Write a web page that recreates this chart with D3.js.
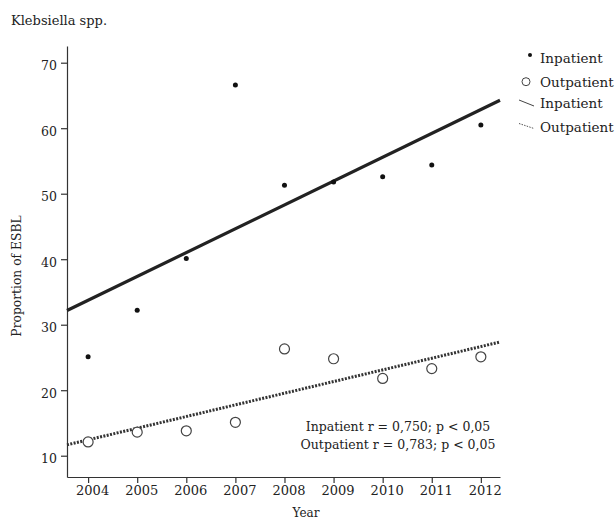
<!DOCTYPE html>
<html>
<head>
<meta charset="utf-8">
<script src="https://cdn.jsdelivr.net/npm/d3@7"></script>
<style>
  body { margin: 0; background: #fff; }
  svg text { font-family: "DejaVu Serif", serif; fill: #222; }
</style>
</head>
<body>
<svg id="chart" width="616" height="520"></svg>
<script>
// data
const years = [2004, 2005, 2006, 2007, 2008, 2009, 2010, 2011, 2012];
const inpatient = [25.1, 32.2, 40.1, 66.6, 51.3, 51.8, 52.6, 54.4, 60.5];
const outpatient = [12.1, 13.6, 13.8, 15.1, 26.3, 24.8, 21.8, 23.3, 25.1];
const yTicks = [10, 20, 30, 40, 50, 60, 70];
const statLines = ["Inpatient r = 0,750; p < 0,05", "Outpatient r = 0,783; p < 0,05"];
const legendLabels = ["Inpatient", "Outpatient", "Inpatient", "Outpatient"];

const svg = d3.select("#chart");

const x = d3.scaleLinear().domain([2003.57, 2012.39]).range([67, 500]);
const y = d3.scaleLinear().domain([6.75, 72.55]).range([477, 46]);

// least squares fit, drawn across the whole x range
function fit(vals) {
  const mx = d3.mean(years), my = d3.mean(vals);
  let sxy = 0, sxx = 0;
  years.forEach((yr, i) => { sxy += (yr - mx) * (vals[i] - my); sxx += (yr - mx) ** 2; });
  const b = sxy / sxx;
  return x.domain().map(xv => [xv, my + b * (xv - mx)]);
}

const line = d3.line().x(d => x(d[0])).y(d => y(d[1]));

// title
svg.append("text").attr("x", 11).attr("y", 25)
  .style("font-size", "13px").text("Klebsiella spp.");

// axes
const yAxis = svg.append("g")
  .attr("transform", `translate(${x.range()[0]},0)`)
  .call(d3.axisLeft(y).tickValues(yTicks).tickSize(6).tickSizeOuter(0).tickPadding(4));
yAxis.selectAll("text").style("font-size", "12.5px").attr("dy", "0.55em")
  .style("font-family", "DejaVu Serif").attr("fill", "#222");

const xAxis = svg.append("g")
  .attr("transform", `translate(0,${y.range()[0]})`)
  .call(d3.axisBottom(x).tickValues(years).tickFormat(d3.format("d")).tickSize(6).tickSizeOuter(0).tickPadding(3));
xAxis.selectAll("text").style("font-size", "13px").attr("dx", 4)
  .style("font-family", "DejaVu Serif").attr("fill", "#222");

svg.selectAll(".domain, .tick line").attr("stroke", "#333").attr("stroke-width", 1.2);

// axis titles
svg.append("text")
  .attr("transform", "translate(21,276) rotate(-90)")
  .attr("text-anchor", "middle").style("font-size", "12.3px")
  .text("Proportion of ESBL");
svg.append("text").attr("x", 306).attr("y", 517)
  .attr("text-anchor", "middle").style("font-size", "12px").text("Year");

// regression lines
svg.append("path").attr("d", line(fit(inpatient)))
  .attr("fill", "none").attr("stroke", "#222").attr("stroke-width", 3.2);
svg.append("path").attr("d", line(fit(outpatient)))
  .attr("fill", "none").attr("stroke", "#333").attr("stroke-width", 3)
  .attr("stroke-dasharray", "2,1.4");

// points
svg.append("g").selectAll("circle").data(outpatient).join("circle")
  .attr("cx", (d, i) => x(years[i])).attr("cy", d => y(d)).attr("r", 5)
  .attr("fill", "#fff").attr("stroke", "#444").attr("stroke-width", 1.2);
svg.append("g").selectAll("circle").data(inpatient).join("circle")
  .attr("cx", (d, i) => x(years[i])).attr("cy", d => y(d)).attr("r", 2.5)
  .attr("fill", "#111");

// stats text
svg.append("g").selectAll("text").data(statLines).join("text")
  .attr("x", 398).attr("y", (d, i) => 431 + i * 18)
  .attr("text-anchor", "middle").style("font-size", "12.5px").text(d => d);

// legend
const lg = svg.append("g");
const rowY = [63, 86.5, 107.5, 132];
lg.selectAll("text").data(legendLabels).join("text")
  .attr("x", 540).attr("y", (d, i) => rowY[i])
  .style("font-size", "13.5px").text(d => d);
lg.append("circle").attr("cx", 530).attr("cy", 55).attr("r", 2).attr("fill", "#111");
lg.append("circle").attr("cx", 526).attr("cy", 81.7).attr("r", 4)
  .attr("fill", "none").attr("stroke", "#444").attr("stroke-width", 1);
lg.append("line").attr("x1", 519).attr("y1", 100).attr("x2", 534).attr("y2", 106)
  .attr("stroke", "#444").attr("stroke-width", 1);
lg.append("line").attr("x1", 519).attr("y1", 123.5).attr("x2", 534).attr("y2", 128.5)
  .attr("stroke", "#555").attr("stroke-width", 1).attr("stroke-dasharray", "1.5,1.2");
</script>
</body>
</html>
